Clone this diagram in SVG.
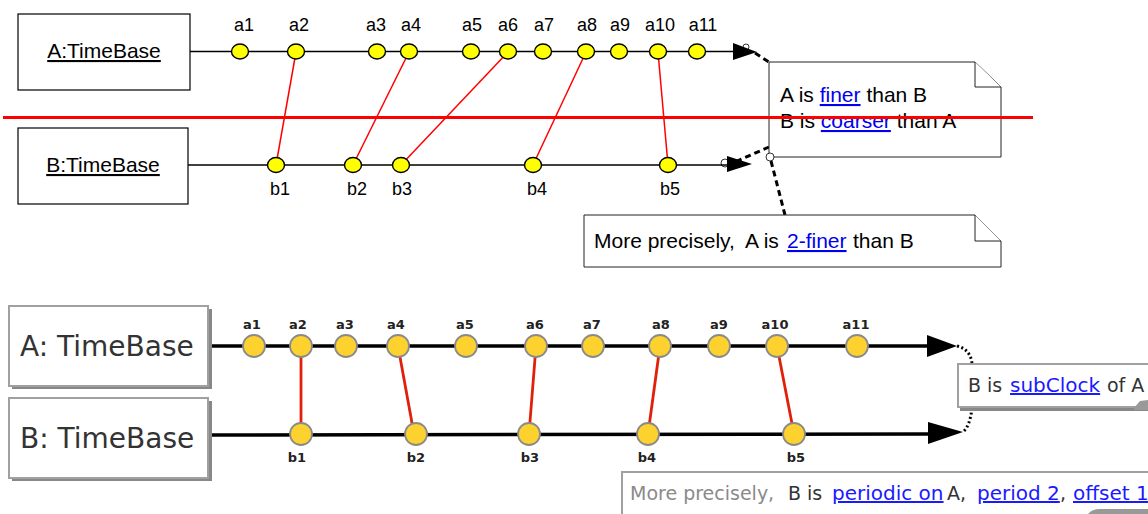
<svg xmlns="http://www.w3.org/2000/svg" width="1148" height="514" viewBox="0 0 1148 514">
<defs>
<style>
.box{fill:#fff;stroke:#000;stroke-width:1.2}
.note{fill:#fff;stroke:#222;stroke-width:1}
.t{font-family:"Liberation Sans",Arial,sans-serif;fill:#000}
.lbl{font-family:"Liberation Sans",Arial,sans-serif;font-size:18px;fill:#000;text-anchor:middle}
.link{fill:#0000ee;text-decoration:underline}
.axis{stroke:#000;stroke-width:1.3;fill:none}
.tick{fill:#ffff00;stroke:#000;stroke-width:1.4}
.rel{stroke:#ff0000;stroke-width:1.5}
.dash{stroke:#000;stroke-width:3;stroke-dasharray:6 4;fill:none}
.bbox{fill:#fff;stroke:#a0a0a0;stroke-width:2}
.shadow{fill:#888}
.bt{font-family:"DejaVu Sans",sans-serif;fill:#333}
.blbl{font-family:"DejaVu Sans",sans-serif;font-size:13px;font-weight:bold;fill:#222;text-anchor:middle}
.baxis{stroke:#000;stroke-width:3.5;fill:none}
.btick{fill:#fdd22e;stroke:#8a8a8a;stroke-width:1.8}
.brel{stroke:#e0200b;stroke-width:2.8}
.dot{stroke:#000;stroke-width:3;stroke-dasharray:2 2.5;fill:none}
.blink{fill:#1a1aff;text-decoration:underline;font-size:20px}
</style>
<ellipse id="oct" cx="0" cy="0" rx="8.5" ry="7.5"/>
</defs>

<!-- ===== TOP DIAGRAM ===== -->
<g id="top-connectors">
<line class="axis" x1="190" y1="51.5" x2="735" y2="51.5"/>
<polygon points="733,43 757,52 733,60" fill="#000"/>
<circle cx="746" cy="47" r="3" fill="none" stroke="#000" stroke-width="0.8"/>
<line class="axis" x1="188" y1="165" x2="730" y2="165"/>
<polygon points="727,156 752,164 727,172" fill="#000"/>
<circle cx="725" cy="163" r="4" fill="none" stroke="#000" stroke-width="0.8"/>
<line class="rel" x1="296" y1="52" x2="276" y2="165"/>
<line class="rel" x1="409" y1="52" x2="353" y2="165"/>
<line class="rel" x1="508" y1="52" x2="401" y2="165"/>
<line class="rel" x1="586" y1="52" x2="533" y2="165"/>
<line class="rel" x1="658" y1="52" x2="668" y2="165"/>
<line class="dash" x1="755" y1="53" x2="769" y2="62"/>
<line class="dash" x1="769" y1="147" x2="737" y2="161"/>
<line class="dash" x1="771" y1="161" x2="785" y2="215"/>
</g>

<g id="A-top">
<rect class="box" x="18" y="14" width="172" height="76"/>
<text class="t" x="104" y="58" font-size="21" text-anchor="middle" text-decoration="underline">A:TimeBase</text>
</g>
<g id="B-top">
<rect class="box" x="18" y="128" width="170" height="76"/>
<text class="t" x="103" y="172" font-size="21" text-anchor="middle" text-decoration="underline">B:TimeBase</text>
</g>

<g id="a-ticks-top">
<use href="#oct" class="tick" x="240" y="51.5"/>
<use href="#oct" class="tick" x="296" y="51.5"/>
<use href="#oct" class="tick" x="377" y="51.5"/>
<use href="#oct" class="tick" x="409" y="51.5"/>
<use href="#oct" class="tick" x="471" y="51.5"/>
<use href="#oct" class="tick" x="508" y="51.5"/>
<use href="#oct" class="tick" x="543" y="51.5"/>
<use href="#oct" class="tick" x="586" y="51.5"/>
<use href="#oct" class="tick" x="619" y="51.5"/>
<use href="#oct" class="tick" x="658" y="51.5"/>
<use href="#oct" class="tick" x="697" y="51.5"/>
<text class="lbl" x="244" y="31">a1</text>
<text class="lbl" x="299" y="31">a2</text>
<text class="lbl" x="376" y="31">a3</text>
<text class="lbl" x="411" y="31">a4</text>
<text class="lbl" x="472" y="31">a5</text>
<text class="lbl" x="508" y="31">a6</text>
<text class="lbl" x="544" y="31">a7</text>
<text class="lbl" x="587" y="31">a8</text>
<text class="lbl" x="620" y="31">a9</text>
<text class="lbl" x="660" y="31">a10</text>
<text class="lbl" x="703" y="31">a11</text>
</g>

<g id="b-ticks-top">
<use href="#oct" class="tick" x="276" y="165"/>
<use href="#oct" class="tick" x="353" y="165"/>
<use href="#oct" class="tick" x="401" y="165"/>
<use href="#oct" class="tick" x="533" y="165"/>
<use href="#oct" class="tick" x="668" y="165"/>
<text class="lbl" x="280" y="195">b1</text>
<text class="lbl" x="357" y="195">b2</text>
<text class="lbl" x="402" y="195">b3</text>
<text class="lbl" x="537" y="195">b4</text>
<text class="lbl" x="670" y="195">b5</text>
</g>

<g id="note-finer">
<path class="note" d="M769,62 H975 L1001,87 V157 H769 Z"/>
<path class="note" d="M975,62 V87 H1001"/>
<text class="t" x="780" y="102" font-size="21">A is <tspan class="link">finer</tspan> than B</text>
<text class="t" x="780" y="128" font-size="21">B is <tspan class="link">coarser</tspan> than A</text>
</g>
<circle cx="770" cy="157" r="4" fill="#fff" stroke="#000" stroke-width="0.8"/>

<g id="note-2finer">
<path class="note" d="M584,215 H975 L1001,241 V267 H584 Z"/>
<path class="note" d="M975,215 V241 H1001"/>
<text class="t" y="248" font-size="21"><tspan x="594">More precisely,</tspan><tspan x="745">A is </tspan><tspan class="link" x="787">2-finer</tspan><tspan x="853">than B</tspan></text>
</g>

<line id="red-separator" x1="3" y1="117.5" x2="1033" y2="117.5" stroke="#ff0000" stroke-width="3.2"/>

<!-- ===== BOTTOM DIAGRAM ===== -->
<g id="bottom-connectors">
<line class="baxis" x1="209" y1="346" x2="930" y2="346"/>
<polygon points="927,335 957,346 927,357" fill="#000"/>
<line class="baxis" x1="209" y1="435" x2="930" y2="434"/>
<polygon points="928,422 963,432 928,444" fill="#000"/>
<line class="brel" x1="301" y1="346" x2="301" y2="434"/>
<line class="brel" x1="398" y1="346" x2="414" y2="434"/>
<line class="brel" x1="536" y1="346" x2="529" y2="434"/>
<line class="brel" x1="660" y1="346" x2="648" y2="434"/>
<line class="brel" x1="777" y1="346" x2="794" y2="434"/>
<path class="dot" d="M957,346 Q970,349 972,363"/>
<path class="dot" d="M972,408 Q970,426 963,432"/>
</g>

<g id="A-bottom">
<rect class="shadow" x="12" y="309" width="200" height="80"/>
<rect class="bbox" x="9" y="306" width="199" height="80"/>
<text class="bt" x="20" y="356" font-size="28">A: TimeBase</text>
</g>
<g id="B-bottom">
<rect class="shadow" x="12" y="401" width="200" height="80"/>
<rect class="bbox" x="9" y="398" width="199" height="80"/>
<text class="bt" x="20" y="448" font-size="28">B: TimeBase</text>
</g>

<g id="a-ticks-bottom">
<circle class="btick" cx="254" cy="346" r="11"/>
<circle class="btick" cx="301" cy="346" r="11"/>
<circle class="btick" cx="346" cy="346" r="11"/>
<circle class="btick" cx="398" cy="346" r="11"/>
<circle class="btick" cx="466" cy="346" r="11"/>
<circle class="btick" cx="536" cy="346" r="11"/>
<circle class="btick" cx="593" cy="346" r="11"/>
<circle class="btick" cx="660" cy="346" r="11"/>
<circle class="btick" cx="719" cy="346" r="11"/>
<circle class="btick" cx="777" cy="346" r="11"/>
<circle class="btick" cx="857" cy="346" r="11"/>
<text class="blbl" x="252" y="329">a1</text>
<text class="blbl" x="298" y="329">a2</text>
<text class="blbl" x="345" y="329">a3</text>
<text class="blbl" x="396" y="329">a4</text>
<text class="blbl" x="465" y="329">a5</text>
<text class="blbl" x="535" y="329">a6</text>
<text class="blbl" x="592" y="329">a7</text>
<text class="blbl" x="661" y="329">a8</text>
<text class="blbl" x="719" y="329">a9</text>
<text class="blbl" x="775" y="329">a10</text>
<text class="blbl" x="856" y="329">a11</text>
</g>

<g id="b-ticks-bottom">
<circle class="btick" cx="301" cy="434" r="11"/>
<circle class="btick" cx="416" cy="434" r="11"/>
<circle class="btick" cx="529" cy="434" r="11"/>
<circle class="btick" cx="648" cy="434" r="11"/>
<circle class="btick" cx="794" cy="434" r="11"/>
<text class="blbl" x="297" y="462">b1</text>
<text class="blbl" x="416" y="462">b2</text>
<text class="blbl" x="530" y="462">b3</text>
<text class="blbl" x="647" y="462">b4</text>
<text class="blbl" x="796" y="462">b5</text>
</g>

<g id="note-subclock">
<rect class="shadow" x="960" y="366" width="200" height="45"/>
<rect class="bbox" x="958" y="364" width="200" height="43"/>
<polygon points="1134,408 1140,401 1148,400 1148,410 1134,410" fill="#999"/>
<text class="bt" y="392" font-size="19"><tspan x="968">B is</tspan><tspan class="blink" x="1010">subClock</tspan><tspan x="1107">of A</tspan></text>
</g>

<g id="note-periodic">
<rect class="shadow" x="624" y="475" width="540" height="50"/>
<rect class="bbox" x="622" y="472" width="540" height="50"/>
<text class="bt" y="500" font-size="19"><tspan x="630" fill="#8a8a8a">More precisely,</tspan><tspan x="788">B is</tspan><tspan class="blink" x="832">periodic on</tspan><tspan x="947">A,</tspan><tspan class="blink" x="977">period 2</tspan><tspan x="1060">,</tspan><tspan class="blink" x="1073">offset 1</tspan></text>
<path d="M1088,514 Q1092,509 1100,509 H1148 V514 Z" fill="#999"/>
</g>
</svg>
